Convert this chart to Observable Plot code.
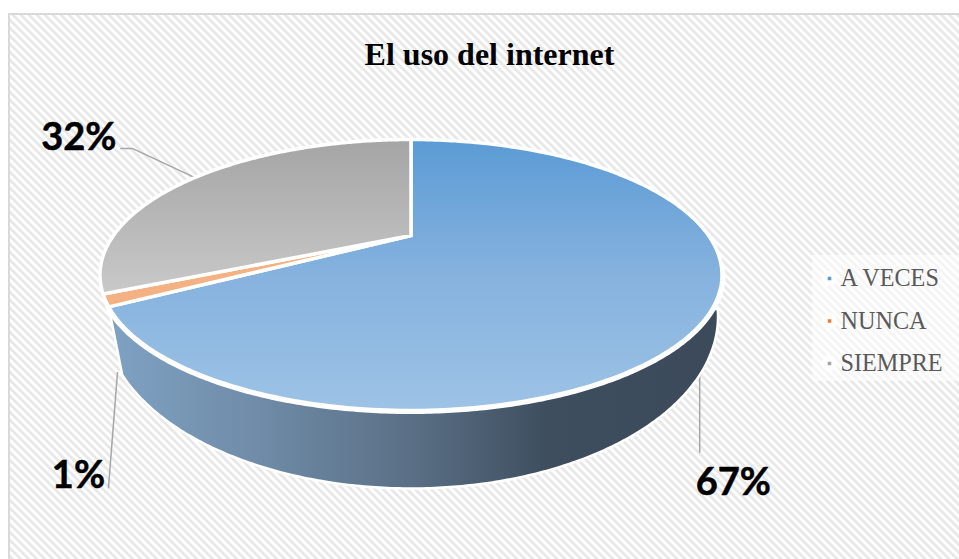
<!DOCTYPE html>
<html><head><meta charset="utf-8">
<style>html,body{margin:0;padding:0;background:#fff}svg{display:block}</style>
<script src="https://cdn.jsdelivr.net/npm/d3@7"></script>
<script src="https://cdn.jsdelivr.net/npm/@observablehq/plot@0.6"></script>
</head><body><div id="chart"></div>
<script>
const titleText = "El uso del internet";
const categories = ["A VECES", "NUNCA", "SIEMPRE"];
const values = [66.8, 1.4, 31.8];
const labels = ["67%", "1%", "32%"];
const keyColors = ["#5b9bd5", "#ed7d31", "#a5a5a5"];

// picture geometry: the tilted pie as two rims in page units
const W = 959, H = 559;
const cx = 410.5, k = 0.291;
const top_ = {rx: 311, ry: 135.5, cy: 274.5};
const low = {rx: 307, ry: 172, cy: 316};
const rim = (deg, e) => {
  const t = deg * Math.PI / 180, w = 1 + k * Math.cos(t);
  return {x: cx + e.rx * Math.sqrt(1 - k * k) * Math.sin(t) / w,
          y: e.cy - e.ry * (Math.cos(t) + k) / w};
};
const apex = {x: cx, y: top_.cy - top_.ry * k};
const total = d3.sum(values);
let acc = 0;
const slices = categories.map((c, i) => {
  const a0 = acc / total * 360; acc += values[i];
  const a1 = acc / total * 360;
  return {cat: c, a0, a1, mid: (a0 + a1) / 2, label: labels[i], i};
});
const steps = (a0, a1) => d3.range(0, 241).map(j => a0 + (a1 - a0) * j / 240);
const wedge = s => [apex, ...steps(s.a0, s.a1).map(a => rim(a, top_)), apex].map(p => ({...p, cat: s.cat}));
const wallEnd = slices[0].a1;
const wall = [...steps(120.5, wallEnd).map(a => rim(a, top_)), ...steps(wallEnd - 5.5, 104.4).map(a => rim(a, low))];
const frontRim = steps(105, wallEnd).map(a => rim(a, top_));

// leader lines and label placement, relative to each slice's anchor
const anchors = [rim(slices[0].mid, low), rim(slices[1].mid, low), rim(slices[2].mid, top_)];
const leaderOffsets = [[[-8.6, 10], [-8.6, 93]], [[8, 24], [-1, 139]], [[0, 0], [-62, -29], [-74, -29]]];
const labelOffsets = [[25, 123], [-31, 127], [-116, -40]];
const leaders = slices.flatMap((s, i) => leaderOffsets[i].map(o => ({x: anchors[i].x + o[0], y: anchors[i].y + o[1], cat: s.cat})));
const labelPts = slices.map((s, i) => ({x: anchors[i].x + labelOffsets[i][0], y: anchors[i].y + labelOffsets[i][1], label: s.label}));
const legendRows = categories.map((c, i) => ({cat: c, color: keyColors[i], row: i, x: 829, y: 278 + i * 42.5}));

const defsMark = () => {
  const ns = "http://www.w3.org/2000/svg";
  const g = document.createElementNS(ns, "g");
  g.innerHTML = `<defs>
    <pattern id="hatch" width="5.66" height="5.66" patternUnits="userSpaceOnUse" patternTransform="rotate(45)">
      <rect width="5.66" height="5.66" fill="#fff"/><rect width="5.66" height="2.83" fill="#e8e8e8"/>
    </pattern>
    <linearGradient id="gBlue" x1="0" y1="0" x2="0" y2="1"><stop offset="0" stop-color="#5b9bd5"/><stop offset="0.5" stop-color="#86b2de"/><stop offset="1" stop-color="#9dc3e6"/></linearGradient>
    <linearGradient id="gGrey" x1="0" y1="0" x2="0" y2="1"><stop offset="0" stop-color="#a5a5a5"/><stop offset="1" stop-color="#c9c9c9"/></linearGradient>
    <linearGradient id="gWall" x1="0" y1="0" x2="1" y2="0">
      <stop offset="0" stop-color="#7fa2c3"/><stop offset="0.25" stop-color="#6f8ba7"/><stop offset="0.5" stop-color="#5a6f85"/><stop offset="0.72" stop-color="#3e4e5f"/><stop offset="1" stop-color="#3c4a5a"/>
    </linearGradient></defs>`;
  return g;
};
const fillOf = {"A VECES": "url(#gBlue)", "NUNCA": "#f4b183", "SIEMPRE": "url(#gGrey)"};

const chart = Plot.plot({
  width: W, height: H, margin: 0,
  x: {axis: null, domain: [0, W]},
  y: {axis: null, domain: [H, 0]},
  color: {type: "identity"},
  marks: [
    defsMark,
    Plot.rect([{x1: 9, x2: W + 5, y1: 14, y2: H + 5}], {x1: "x1", x2: "x2", y1: "y1", y2: "y2", fill: "url(#hatch)", stroke: "#d9d9d9", strokeWidth: 2}),
    Plot.rect([{x1: 812, x2: W, y1: 255, y2: 381}], {x1: "x1", x2: "x2", y1: "y1", y2: "y2", fill: "#fff", fillOpacity: 0.55}),
    Plot.line(leaders, {x: "x", y: "y", z: "cat", stroke: "#a6a6a6", strokeWidth: 1.5}),
    Plot.line([...wall, wall[0]], {x: "x", y: "y", fill: "url(#gWall)", stroke: "#fff", strokeWidth: 2.5}),
    Plot.line(frontRim, {x: "x", y: "y", stroke: "#fff", strokeWidth: 7}),
    ...slices.map(s => Plot.line(wedge(s), {x: "x", y: "y", fill: fillOf[s.cat], stroke: "#fff", strokeWidth: 3.5, strokeLinejoin: "round"})),
    Plot.text(labelPts, {x: "x", y: "y", text: "label", fontFamily: "Lato", fontWeight: 700, fontSize: 38, fill: "#000", stroke: "#000", strokeWidth: 0.5, textAnchor: "middle"}),
    Plot.text([{t: titleText, x: 489, y: 54}], {x: "x", y: "y", text: "t", fontFamily: "Liberation Serif", fontWeight: 700, fontSize: 32, fill: "#000"}),
    Plot.dot(legendRows, {x: "x", y: "y", r: 8, fill: "#fff", fillOpacity: 0.8}),
    Plot.dot(legendRows, {x: "x", y: "y", r: 2, symbol: "square", fill: "color"}),
    Plot.text(legendRows, {x: d => d.x + 11, y: "y", text: "cat", textAnchor: "start", fontFamily: "Liberation Serif", fontSize: 24.2, fill: "#595959"})
  ]
});
document.getElementById("chart").append(chart);
</script></body></html>
